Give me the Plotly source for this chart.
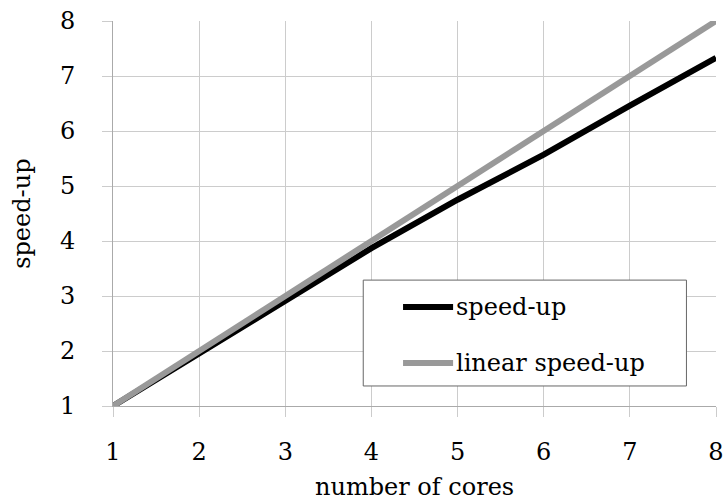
import plotly.graph_objects as go

cores = [1, 2, 3, 4, 5, 6, 7, 8]
speedup = [1.0, 1.95, 2.93, 3.87, 4.75, 5.57, 6.46, 7.33]
linear_speedup = [1, 2, 3, 4, 5, 6, 7, 8]
tick_vals = [1, 2, 3, 4, 5, 6, 7, 8]
series_names = ["speed-up", "linear speed-up"]
series_colors = ["#000000", "#999999"]
x_title = "number of cores"
y_title = "speed-up"

FONT = "DejaVu Serif"
FS = 24

fig = go.Figure()
fig.add_trace(go.Scatter(x=cores, y=speedup, mode="lines", name=series_names[0],
                         line=dict(color=series_colors[0], width=6), showlegend=False))
fig.add_trace(go.Scatter(x=cores, y=linear_speedup, mode="lines", name=series_names[1],
                         line=dict(color=series_colors[1], width=6), showlegend=False))

axis_common = dict(
    showgrid=True, gridcolor="#cccccc", gridwidth=1,
    showline=True, linecolor="#aaaaaa", linewidth=1,
    ticks="outside", ticklen=10, tickcolor="#cccccc", tickwidth=1,
    tickfont=dict(family=FONT, size=FS, color="#000000"),
    zeroline=False, tickvals=tick_vals, automargin=False,
)

fig.update_xaxes(range=[1, 8], ticklabelstandoff=14, **axis_common)
fig.update_yaxes(range=[1, 8], ticklabelstandoff=22, **axis_common)

# axis titles
fig.add_annotation(xref="paper", yref="paper", x=0.5, y=-0.21, text=x_title, showarrow=False,
                   xanchor="center", yanchor="middle", font=dict(family=FONT, size=FS, color="#000"))
fig.add_annotation(xref="paper", yref="paper", x=-0.152, y=0.5, text=y_title, showarrow=False,
                   textangle=-90, xanchor="center", yanchor="middle",
                   font=dict(family=FONT, size=FS, color="#000"))

# legend box drawn manually
lx0, lx1, ly0, ly1 = 0.415, 0.951, 0.052, 0.327
fig.add_shape(type="rect", xref="paper", yref="paper", x0=lx0, x1=lx1, y0=ly0, y1=ly1,
              line=dict(color="#666666", width=1), fillcolor="#ffffff", layer="above")
rows = [0.257, 0.112]
for name, color, ry in zip(series_names, series_colors, rows):
    fig.add_shape(type="line", xref="paper", yref="paper", x0=0.481, x1=0.564, y0=ry, y1=ry,
                  line=dict(color=color, width=6), layer="above")
    fig.add_annotation(xref="paper", yref="paper", x=0.566, y=ry, text=name, showarrow=False,
                       xanchor="left", yanchor="middle",
                       font=dict(family=FONT, size=FS, color="#000000"))

fig.update_layout(
    width=724, height=500,
    margin=dict(l=113, r=8, t=21, b=94),
    paper_bgcolor="#ffffff", plot_bgcolor="#ffffff",
    font=dict(family=FONT, size=FS, color="#000000"),
)

fig.write_html("out.html", config={"displayModeBar": False},
               post_script="document.body.style.margin='0';document.body.style.overflow='hidden';")
